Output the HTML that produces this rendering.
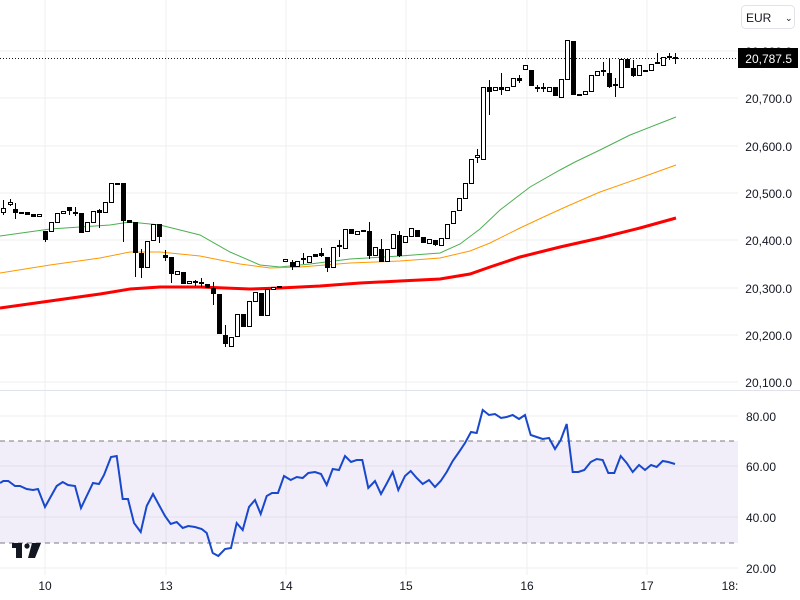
<!DOCTYPE html>
<html><head><meta charset="utf-8"><style>
html,body{margin:0;padding:0;background:#fff;}
svg{display:block;font-family:"Liberation Sans",sans-serif;}
.w{fill:#fff}.b{fill:#000}
</style></head><body>
<svg width="800" height="600" viewBox="0 0 800 600" xmlns="http://www.w3.org/2000/svg">
<rect width="800" height="600" fill="#fff"/>
<g stroke="#efefef" stroke-width="1">
<line x1="0" y1="51" x2="738" y2="51"/><line x1="0" y1="98" x2="738" y2="98"/><line x1="0" y1="146" x2="738" y2="146"/><line x1="0" y1="193" x2="738" y2="193"/><line x1="0" y1="240" x2="738" y2="240"/><line x1="0" y1="288" x2="738" y2="288"/><line x1="0" y1="335" x2="738" y2="335"/><line x1="0" y1="382" x2="738" y2="382"/>
<line x1="0" y1="416" x2="738" y2="416"/><line x1="0" y1="466" x2="738" y2="466"/><line x1="0" y1="517" x2="738" y2="517"/><line x1="0" y1="568" x2="738" y2="568"/>
<line x1="45" y1="0" x2="45" y2="575"/><line x1="166" y1="0" x2="166" y2="575"/><line x1="286" y1="0" x2="286" y2="575"/><line x1="406" y1="0" x2="406" y2="575"/><line x1="527" y1="0" x2="527" y2="575"/><line x1="647" y1="0" x2="647" y2="575"/>
</g>
<line x1="0" y1="390.5" x2="800" y2="390.5" stroke="#e0e3eb" stroke-width="1"/>
<rect x="0" y="441" width="738" height="102" fill="#7e57c2" fill-opacity="0.1"/>
<line x1="0" y1="441" x2="738" y2="441" stroke="#787b86" stroke-dasharray="5,4"/>
<line x1="0" y1="543" x2="738" y2="543" stroke="#787b86" stroke-dasharray="5,4"/>
<polyline fill="none" stroke="#4caf50" stroke-width="1" points="0,236 50,229 110,225 130,222 160,225 200,235 230,252 260,265 280,267 310,264 350,259 400,256 440,253 460,244 480,229 500,210 530,187 560,170 575,162 600,150 630,135 676,117"/>
<polyline fill="none" stroke="#ff9800" stroke-width="1" points="0,273 50,265 100,258 130,252 160,252 200,256 240,264 270,268 300,267 350,263 400,261 440,258 470,251 490,243 520,228 550,214 570,205 600,192 640,178 676,165"/>
<polyline fill="none" stroke="#f00" stroke-width="3" points="0,308 50,301 100,294 130,289 160,287 200,287 250,289 280,288 320,286 360,283 400,281 440,279 470,274 490,267 520,257 560,247 600,238 640,228 676,218"/>
<line x1="0" y1="58.5" x2="738" y2="58.5" stroke="#131722" stroke-dasharray="1,2"/>
<g stroke="#000" stroke-width="1" shape-rendering="crispEdges">
<path fill="none" d="M3.5 200V215M10.5 199V206M15.5 203V219M45.5 231V242M69.5 207V215M75.5 207V216M81.5 213V233M99.5 209V228M123.5 183V242M135.5 222V277M141.5 249V278M159.5 224V243M165.5 250V261M171.5 257V283M195.5 280V286M201.5 278V287M213.5 282V305M225.5 325V347M292.5 260V270M303.5 253V264M321.5 248V257M327.5 257V272M339.5 240V257M369.5 222V259M381.5 239V261M399.5 231V257M435.5 240V246M477.5 149V163M489.5 80V115M501.5 73V95M519.5 75V83M537.5 85V92M543.5 83V92M555.5 87V96M603.5 62V76M609.5 58V88M615.5 78V97M633.5 60V77M657.5 53V63M669.5 53V60M675.5 53V64"/>
<rect class="w" x="1.5" y="208.5" width="4" height="4"/>
<rect class="w" x="8.5" y="202.5" width="4" height="2"/>
<rect class="b" x="13.5" y="209.5" width="4" height="3"/>
<rect class="b" x="19.5" y="212.5" width="4" height="1"/>
<rect class="b" x="25.5" y="212.5" width="4" height="2"/>
<rect class="b" x="31.5" y="214.5" width="4" height="2"/>
<rect class="w" x="37.5" y="214.5" width="4" height="2"/>
<rect class="b" x="43.5" y="231.5" width="4" height="8"/>
<rect class="w" x="49.5" y="222.5" width="4" height="9"/>
<rect class="w" x="55.5" y="213.5" width="4" height="9"/>
<rect class="w" x="61.5" y="211.5" width="4" height="2"/>
<rect class="b" x="67.5" y="207.5" width="4" height="3"/>
<rect class="b" x="73.5" y="212.5" width="4" height="1"/>
<rect class="b" x="79.5" y="213.5" width="4" height="19"/>
<rect class="w" x="85.5" y="222.5" width="4" height="9"/>
<rect class="w" x="91.5" y="211.5" width="4" height="11"/>
<rect class="b" x="97.5" y="210.5" width="4" height="2"/>
<rect class="w" x="103.5" y="202.5" width="4" height="10"/>
<rect class="w" x="109.5" y="183.5" width="4" height="19"/>
<rect class="b" x="115.5" y="183.5" width="4" height="1"/>
<rect class="b" x="121.5" y="183.5" width="4" height="37"/>
<rect class="b" x="127.5" y="220.5" width="4" height="2"/>
<rect class="b" x="133.5" y="222.5" width="4" height="30"/>
<rect class="b" x="139.5" y="253.5" width="4" height="14"/>
<rect class="w" x="145.5" y="241.5" width="4" height="26"/>
<rect class="w" x="151.5" y="224.5" width="4" height="16"/>
<rect class="b" x="157.5" y="224.5" width="4" height="12"/>
<rect class="b" x="163.5" y="255.5" width="4" height="2"/>
<rect class="b" x="169.5" y="257.5" width="4" height="16"/>
<rect class="w" x="175.5" y="271.5" width="4" height="3"/>
<rect class="b" x="181.5" y="272.5" width="4" height="11"/>
<rect class="w" x="187.5" y="281.5" width="4" height="2"/>
<rect class="b" x="193.5" y="281.5" width="4" height="1"/>
<rect class="b" x="199.5" y="282.5" width="4" height="1"/>
<rect class="b" x="205.5" y="284.5" width="4" height="3"/>
<rect class="b" x="211.5" y="288.5" width="4" height="5"/>
<rect class="b" x="217.5" y="294.5" width="4" height="39"/>
<rect class="b" x="223.5" y="335.5" width="4" height="8"/>
<rect class="w" x="229.5" y="337.5" width="4" height="9"/>
<rect class="w" x="235.5" y="314.5" width="4" height="22"/>
<rect class="b" x="241.5" y="314.5" width="4" height="12"/>
<rect class="w" x="247.5" y="301.5" width="4" height="25"/>
<rect class="w" x="253.5" y="292.5" width="4" height="9"/>
<rect class="b" x="259.5" y="293.5" width="4" height="22"/>
<rect class="w" x="265.5" y="289.5" width="4" height="26"/>
<rect class="w" x="271.5" y="287.5" width="4" height="2"/>
<rect class="b" x="277.5" y="286.5" width="4" height="1"/>
<rect class="w" x="283.5" y="259.5" width="4" height="2"/>
<rect class="b" x="290.5" y="262.5" width="4" height="4"/>
<rect class="w" x="295.5" y="261.5" width="4" height="5"/>
<rect class="b" x="301.5" y="258.5" width="4" height="1"/>
<rect class="w" x="307.5" y="256.5" width="4" height="6"/>
<rect class="b" x="313.5" y="254.5" width="4" height="2"/>
<rect class="b" x="319.5" y="253.5" width="4" height="2"/>
<rect class="b" x="325.5" y="257.5" width="4" height="10"/>
<rect class="w" x="331.5" y="247.5" width="4" height="20"/>
<rect class="b" x="337.5" y="245.5" width="4" height="1"/>
<rect class="w" x="343.5" y="229.5" width="4" height="19"/>
<rect class="b" x="349.5" y="229.5" width="4" height="4"/>
<rect class="w" x="355.5" y="231.5" width="4" height="3"/>
<rect class="b" x="361.5" y="230.5" width="4" height="1"/>
<rect class="b" x="367.5" y="231.5" width="4" height="24"/>
<rect class="w" x="373.5" y="247.5" width="4" height="8"/>
<rect class="b" x="379.5" y="249.5" width="4" height="12"/>
<rect class="w" x="385.5" y="249.5" width="4" height="12"/>
<rect class="w" x="391.5" y="234.5" width="4" height="14"/>
<rect class="b" x="397.5" y="235.5" width="4" height="20"/>
<rect class="w" x="403.5" y="236.5" width="4" height="6"/>
<rect class="w" x="409.5" y="228.5" width="4" height="8"/>
<rect class="b" x="415.5" y="230.5" width="4" height="6"/>
<rect class="b" x="421.5" y="237.5" width="4" height="5"/>
<rect class="w" x="427.5" y="239.5" width="4" height="4"/>
<rect class="b" x="433.5" y="240.5" width="4" height="4"/>
<rect class="w" x="439.5" y="238.5" width="4" height="7"/>
<rect class="w" x="445.5" y="224.5" width="4" height="14"/>
<rect class="w" x="451.5" y="211.5" width="4" height="12"/>
<rect class="w" x="457.5" y="198.5" width="4" height="12"/>
<rect class="w" x="463.5" y="183.5" width="4" height="15"/>
<rect class="w" x="469.5" y="159.5" width="4" height="24"/>
<rect class="w" x="475.5" y="155.5" width="4" height="2"/>
<rect class="w" x="481.5" y="87.5" width="4" height="72"/>
<rect class="b" x="487.5" y="87.5" width="4" height="4"/>
<rect class="w" x="493.5" y="87.5" width="4" height="3"/>
<rect class="b" x="499.5" y="87.5" width="4" height="2"/>
<rect class="w" x="505.5" y="87.5" width="4" height="3"/>
<rect class="w" x="511.5" y="78.5" width="4" height="8"/>
<rect class="b" x="517.5" y="78.5" width="4" height="2"/>
<rect class="w" x="523.5" y="65.5" width="4" height="4"/>
<rect class="b" x="529.5" y="70.5" width="4" height="15"/>
<rect class="b" x="535.5" y="87.5" width="4" height="1"/>
<rect class="b" x="541.5" y="87.5" width="4" height="1"/>
<rect class="w" x="547.5" y="87.5" width="4" height="4"/>
<rect class="b" x="553.5" y="87.5" width="4" height="8"/>
<rect class="w" x="559.5" y="79.5" width="4" height="18"/>
<rect class="w" x="565.5" y="40.5" width="4" height="39"/>
<rect class="b" x="571.5" y="41.5" width="4" height="53"/>
<rect class="b" x="577.5" y="94.5" width="4" height="1"/>
<rect class="w" x="583.5" y="91.5" width="4" height="3"/>
<rect class="w" x="589.5" y="75.5" width="4" height="16"/>
<rect class="w" x="595.5" y="71.5" width="4" height="4"/>
<rect class="b" x="601.5" y="70.5" width="4" height="1"/>
<rect class="b" x="607.5" y="73.5" width="4" height="13"/>
<rect class="b" x="613.5" y="84.5" width="4" height="1"/>
<rect class="w" x="619.5" y="59.5" width="4" height="28"/>
<rect class="b" x="625.5" y="59.5" width="4" height="8"/>
<rect class="b" x="631.5" y="68.5" width="4" height="7"/>
<rect class="w" x="637.5" y="65.5" width="4" height="10"/>
<rect class="b" x="643.5" y="70.5" width="4" height="1"/>
<rect class="w" x="649.5" y="64.5" width="4" height="6"/>
<rect class="b" x="655.5" y="62.5" width="4" height="1"/>
<rect class="w" x="661.5" y="57.5" width="4" height="8"/>
<rect class="b" x="667.5" y="56.5" width="4" height="1"/>
<rect class="b" x="673.5" y="57.5" width="4" height="1"/>
</g>
<polyline fill="none" stroke="#1848cc" stroke-width="2" points="0,483 3.3,481 8.3,481 15,486 20,486 26.7,489 33,490 38,489 45,507 50,498 56.7,486 62.7,482 68,485 75,486 81,508 86.7,496 93,483 99,484 104,475 111,457 116.7,456 122.7,499 128,499 134,523 140.7,532 146.7,506 153,494 159,505 165,516 170.7,524 176.7,522 182.7,528 188.3,526 195,527 201.7,529 206.7,533 212.7,553 218.3,556 225,549 231,548 236.7,523 242.7,530 249,507 255,500 260.7,514 266.7,496 272,493 278,493 284,476 290.7,480 296.7,477 302.7,478 308.3,473 315,472 321,474 326.7,485 332.7,469 339,470 345,456 351,462 356.7,460 362.3,460 368.3,488 375,481 381,494 387,483 392.7,472 398.3,490 405,476 410.7,471 416.7,478 422.7,484 429,480 435,487 440.7,481 446.7,472 452.7,461 459,452 465,443 471,432 476.7,433 482.7,410 489,415 495,414 501,418 506.7,417 512.7,415 519,419 525,415 530.7,435 536.7,437 542.7,439 549,438 555,449 560.7,440 566.7,424 572.7,472 578.3,472 584.3,470 590.7,462 596.7,459 602.7,460 608.3,473 614.3,473 620.7,456 626.7,463 632.7,472 639,465 645,470 651,465 656.7,467 662.7,461 668.3,462 675,464"/>
<g font-size="12" fill="#131722" text-anchor="end">
<text x="792" y="56">20,800.0</text>
<text x="792" y="103">20,700.0</text>
<text x="792" y="151">20,600.0</text>
<text x="792" y="198">20,500.0</text>
<text x="792" y="245">20,400.0</text>
<text x="792" y="293">20,300.0</text>
<text x="792" y="340">20,200.0</text>
<text x="792" y="387">20,100.0</text>
<text x="776" y="421">80.00</text>
<text x="776" y="471">60.00</text>
<text x="776" y="522">40.00</text>
<text x="776" y="573">20.00</text>
</g>
<rect x="738" y="48" width="60" height="20" fill="#000"/>
<text x="792" y="63" font-size="12" fill="#fff" text-anchor="end">20,787.5</text>
<rect x="741.5" y="5.5" width="53" height="23" rx="4" fill="#fff" stroke="#e0e3eb"/>
<text x="746" y="22" font-size="12" fill="#131722">EUR</text>
<text x="785" y="21" font-size="9" fill="#131722">⌄</text>
<g font-size="12" fill="#131722" text-anchor="middle">
<text x="45" y="590">10</text><text x="166" y="590">13</text><text x="286" y="590">14</text><text x="406" y="590">15</text><text x="527" y="590">16</text><text x="647" y="590">17</text><text x="730" y="590">18:</text>
</g>
<g fill="#131722"><rect x="12" y="543" width="10" height="5"/><rect x="16" y="543" width="6" height="15"/><circle cx="27" cy="546" r="2.6"/><polygon points="32,543 41,543 35,558 28,558"/></g>
</svg>
</body></html>
